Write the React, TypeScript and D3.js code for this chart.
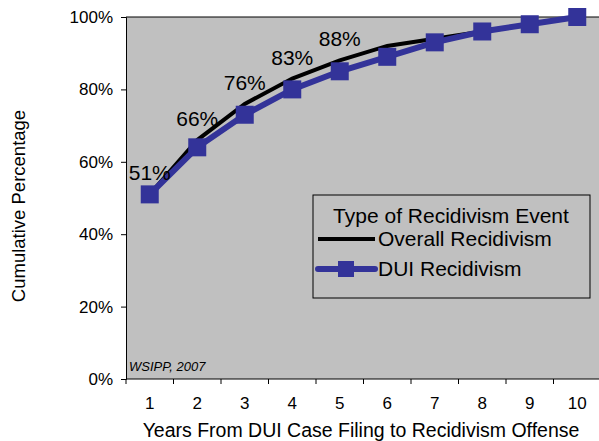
import { useEffect, useRef } from 'react';
import * as d3 from 'd3';

const years = ['1', '2', '3', '4', '5', '6', '7', '8', '9', '10'];
const overall = [51, 66, 76, 83, 88, 92, 94, 96, 98, 100];
const dui = [51, 64, 73, 80, 85, 89, 93, 96, 98, 100];
const labelledYears = ['1', '2', '3', '4', '5'];
const yTicks = [0, 20, 40, 60, 80, 100];

const W = 599;
const H = 441;
const FONT = 'Arial, "Liberation Sans", sans-serif';

export default function App() {
  const svgRef = useRef<SVGSVGElement>(null);

  useEffect(() => {
    if (!svgRef.current) return;
    const svg = d3.select(svgRef.current);
    svg.selectAll('*').remove();

    // plot area (right side runs past the picture edge, like the original crop)
    const left = 126, right = 601, top = 17, bottom = 379;

    const x = d3.scaleBand().domain(years).range([left, right]);
    const y = d3.scaleLinear().domain([0, 100]).range([bottom, top]);

    svg.append('rect')
      .attr('x', left).attr('y', top)
      .attr('width', right - left).attr('height', bottom - top)
      .attr('fill', '#C0C0C0');

    // top border
    svg.append('line')
      .attr('x1', left).attr('x2', right)
      .attr('y1', top).attr('y2', top)
      .attr('stroke', '#000').attr('stroke-width', 1);

    // y axis
    const yAxis = svg.append('g')
      .attr('transform', `translate(${left},0)`)
      .call(d3.axisLeft(y).tickValues(yTicks).tickSize(5).tickFormat(d => `${d}%`));
    yAxis.select('.domain').attr('stroke', '#000');
    yAxis.selectAll('.tick line').attr('stroke', '#000');
    yAxis.selectAll('.tick text')
      .attr('font-family', FONT).attr('font-size', 17).attr('fill', '#000')
      .attr('x', -13);

    // x axis: ticks between categories
    const xAxis = svg.append('g').attr('transform', `translate(0,${bottom})`);
    xAxis.append('line')
      .attr('x1', left).attr('x2', right)
      .attr('stroke', '#000');
    const bounds = years.map(d => x(d)!);
    xAxis.selectAll('.tk').data(bounds).join('line')
      .attr('x1', d => d).attr('x2', d => d)
      .attr('y1', 0).attr('y2', 5)
      .attr('stroke', '#000');
    xAxis.selectAll('.lbl').data(years).join('text')
      .attr('x', d => x(d)! + x.bandwidth() / 2)
      .attr('y', 30)
      .attr('text-anchor', 'middle')
      .attr('font-family', FONT).attr('font-size', 17)
      .text(d => d);

    // axis titles
    svg.append('text')
      .attr('x', 361).attr('y', 437)
      .attr('text-anchor', 'middle')
      .attr('font-family', FONT).attr('font-size', 19.5)
      .text('Years From DUI Case Filing to Recidivism Offense');
    svg.append('text')
      .attr('transform', 'translate(25,206) rotate(-90)')
      .attr('text-anchor', 'middle')
      .attr('font-family', FONT).attr('font-size', 18.5)
      .text('Cumulative Percentage');

    const cx = (d: string) => x(d)! + x.bandwidth() / 2;

    // overall recidivism line
    const lineO = d3.line<number>().x((_, i) => cx(years[i])).y(d => y(d));
    svg.append('path')
      .attr('d', lineO(overall))
      .attr('fill', 'none').attr('stroke', '#000').attr('stroke-width', 4);

    // DUI recidivism line with square markers
    svg.append('path')
      .attr('d', lineO(dui))
      .attr('fill', 'none').attr('stroke', '#333399').attr('stroke-width', 6);
    svg.selectAll('.mk').data(dui).join('rect')
      .attr('x', (_, i) => cx(years[i]) - 9)
      .attr('y', d => y(d) - 9)
      .attr('width', 18).attr('height', 18)
      .attr('fill', '#333399');

    // data labels for overall
    svg.selectAll('.dl').data(labelledYears).join('text')
      .attr('x', d => cx(d))
      .attr('y', d => y(overall[years.indexOf(d)]) - 14)
      .attr('text-anchor', 'middle')
      .attr('font-family', FONT).attr('font-size', 21)
      .text(d => `${overall[years.indexOf(d)]}%`);

    // legend
    const lg = svg.append('g').attr('transform', 'translate(313,195)');
    lg.append('rect')
      .attr('width', 277).attr('height', 103)
      .attr('fill', '#C0C0C0').attr('stroke', '#000').attr('stroke-width', 1);
    lg.append('text')
      .attr('x', 138).attr('y', 28)
      .attr('text-anchor', 'middle')
      .attr('font-family', FONT).attr('font-size', 21)
      .text('Type of Recidivism Event');
    lg.append('line')
      .attr('x1', 5).attr('x2', 62).attr('y1', 44).attr('y2', 44)
      .attr('stroke', '#000').attr('stroke-width', 4);
    lg.append('text')
      .attr('x', 65).attr('y', 51)
      .attr('font-family', FONT).attr('font-size', 21)
      .text('Overall Recidivism');
    lg.append('line')
      .attr('x1', 5).attr('x2', 62).attr('y1', 74).attr('y2', 74)
      .attr('stroke', '#333399').attr('stroke-width', 6).attr('stroke-linecap', 'round');
    lg.append('rect')
      .attr('x', 25).attr('y', 66).attr('width', 16).attr('height', 16)
      .attr('fill', '#333399');
    lg.append('text')
      .attr('x', 65).attr('y', 81)
      .attr('font-family', FONT).attr('font-size', 21)
      .text('DUI Recidivism');

    // source note
    svg.append('text')
      .attr('x', 129).attr('y', 371)
      .attr('font-family', FONT).attr('font-size', 13).attr('font-style', 'italic')
      .text('WSIPP, 2007');
  }, []);

  return (
    <div style={{ position: 'fixed', left: 0, top: 0, width: W, height: H, background: '#fff' }}>
      <svg ref={svgRef} width={W} height={H} style={{ display: 'block' }} />
    </div>
  );
}
